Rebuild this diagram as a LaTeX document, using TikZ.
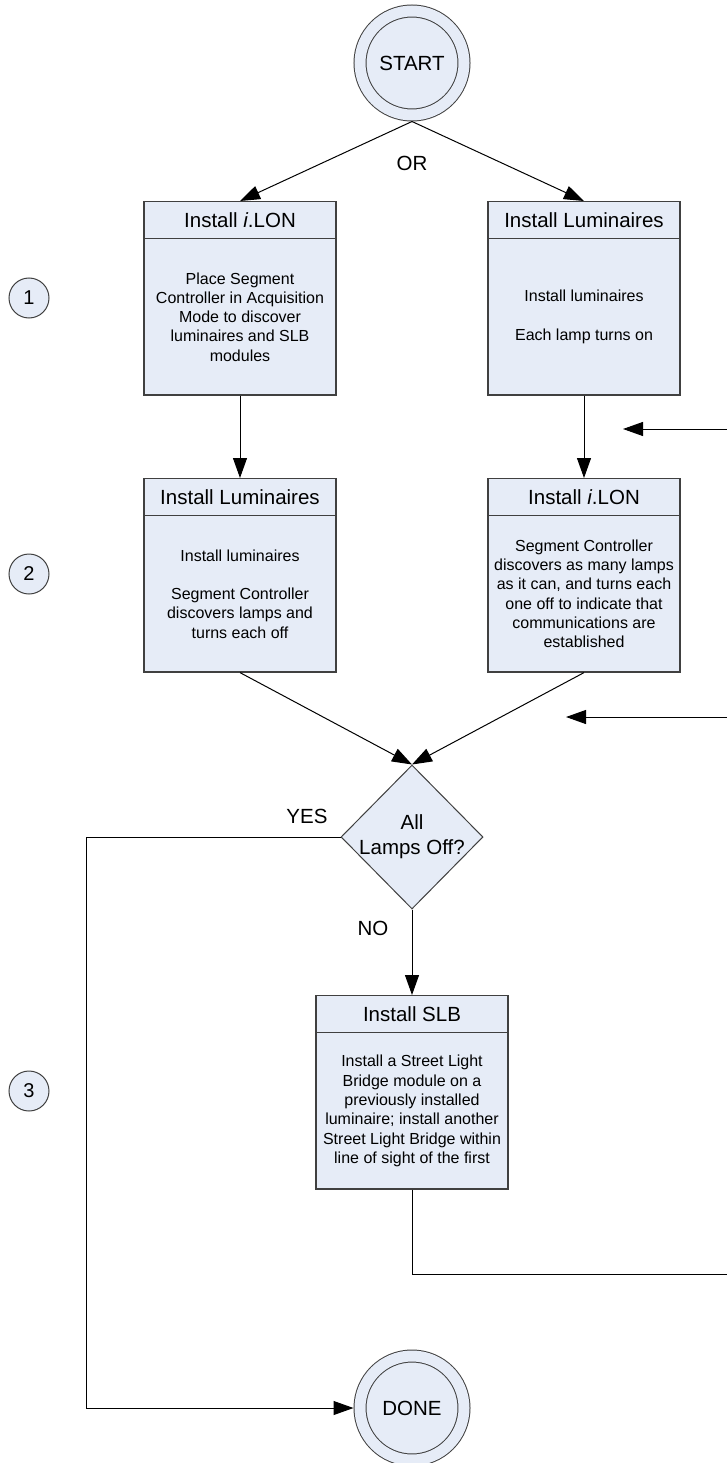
\documentclass[tikz,border=0pt]{standalone}
\usepackage{fontspec}
\setmainfont{Liberation Sans}
\usetikzlibrary{shapes.geometric,shapes.multipart,arrows.meta}
\definecolor{boxfill}{RGB}{230,236,247}
\definecolor{boxline}{RGB}{64,64,64}
\newcommand{\headbox}[1]{\parbox[c][36pt][c]{192pt}{\centering\fontsize{20.5}{25}\selectfont #1}}
\newcommand{\bodybox}[1]{\parbox[c][155pt][c]{192pt}{\centering\fontsize{16}{19.3}\selectfont #1}}
\tikzset{
 stepbox/.style={rectangle split,rectangle split parts=2,draw=boxline,fill=boxfill,line width=1.2pt,inner sep=0pt,anchor=north},
 endpoint/.style={circle,draw=boxline,line width=1pt,double=boxfill,double distance=11pt,fill=boxfill,minimum size=104pt,inner sep=0pt,outer sep=6.5pt},
 decision/.style={diamond,draw=boxline,fill=boxfill,line width=1pt,minimum width=142pt,minimum height=144pt,inner sep=0pt,align=center},
 phase/.style={circle,draw=boxline,fill=boxfill,line width=1pt,minimum size=40pt,inner sep=0pt,font=\fontsize{20}{24}\selectfont},
 flow/.style={->,>={Triangle[length=20pt,width=14pt]},line width=1pt}
}
\begin{document}
\begin{tikzpicture}[x=1pt,y=-1pt,font=\fontsize{20.5}{25}\selectfont]
 \useasboundingbox (0,0) rectangle (727,1463); %画像の範囲
 \node[endpoint] (start) at (412,63) {START}; %開始
 \node (or) at (412,163) {OR};
 \node[stepbox] (lonA) at (240,201) {\headbox{Install \textit{i}.LON}\nodepart{two}\bodybox{Place Segment\\Controller in Acquisition\\Mode to discover\\luminaires and SLB\\modules}}; %左列1
 \node[stepbox] (lumB) at (584,201) {\headbox{Install Luminaires}\nodepart{two}\bodybox{Install luminaires\\[19.3pt]Each lamp turns on}}; %右列1
 \node[stepbox] (lumA) at (240,478) {\headbox{Install Luminaires}\nodepart{two}\bodybox{Install luminaires\\[19.3pt]Segment Controller\\discovers lamps and\\turns each off}}; %左列2
 \node[stepbox] (lonB) at (584,478) {\headbox{Install \textit{i}.LON}\nodepart{two}\bodybox{Segment Controller\\discovers as many lamps\\as it can, and turns each\\one off to indicate that\\communications are\\established}}; %右列2
 \node[decision] (check) at (412,837) {\makebox[0pt]{All}\\\makebox[0pt]{Lamps Off?}}; %判定
 \node (yes) at (307,816) {YES};
 \node (no) at (373,928) {NO};
 \node[stepbox] (slb) at (412,995) {\headbox{Install SLB}\nodepart{two}\bodybox{Install a Street Light\\Bridge module on a\\previously installed\\luminaire; install another\\Street Light Bridge within\\line of sight of the first}}; %SLB設置
 \node[endpoint] (done) at (412,1408) {DONE}; %終了
 \node[phase] (one) at (29,298) {1}; %段階番号
 \node[phase] (two) at (29,574) {2};
 \node[phase] (three) at (29,1091) {3};
 \coordinate (backA) at (727,429); %右端から戻る線
 \coordinate (tipA) at (623,429);
 \coordinate (backB) at (727,717);
 \coordinate (tipB) at (566,717);
 \coordinate (loopout) at (727,1274); %右端へ出る線
 \coordinate (yescorner) at (86,837);
 \draw[flow] (start.south) -- (lonA.north);
 \draw[flow] (start.south) -- (lumB.north);
 \draw[flow] (lonA.south) -- (lumA.north);
 \draw[flow] (lumB.south) -- (lonB.north);
 \draw[flow] (lumA.south) -- (check.north);
 \draw[flow] (lonB.south) -- (check.north);
 \draw[flow] (backA) -- (tipA);
 \draw[flow] (backB) -- (tipB);
 \draw[flow] (check.south) -- (slb.north);
 \draw[flow] (check.west) -- (yescorner) |- (done.west);
 \draw[line width=1pt] (slb.south) |- (loopout);
\end{tikzpicture}
\end{document}
